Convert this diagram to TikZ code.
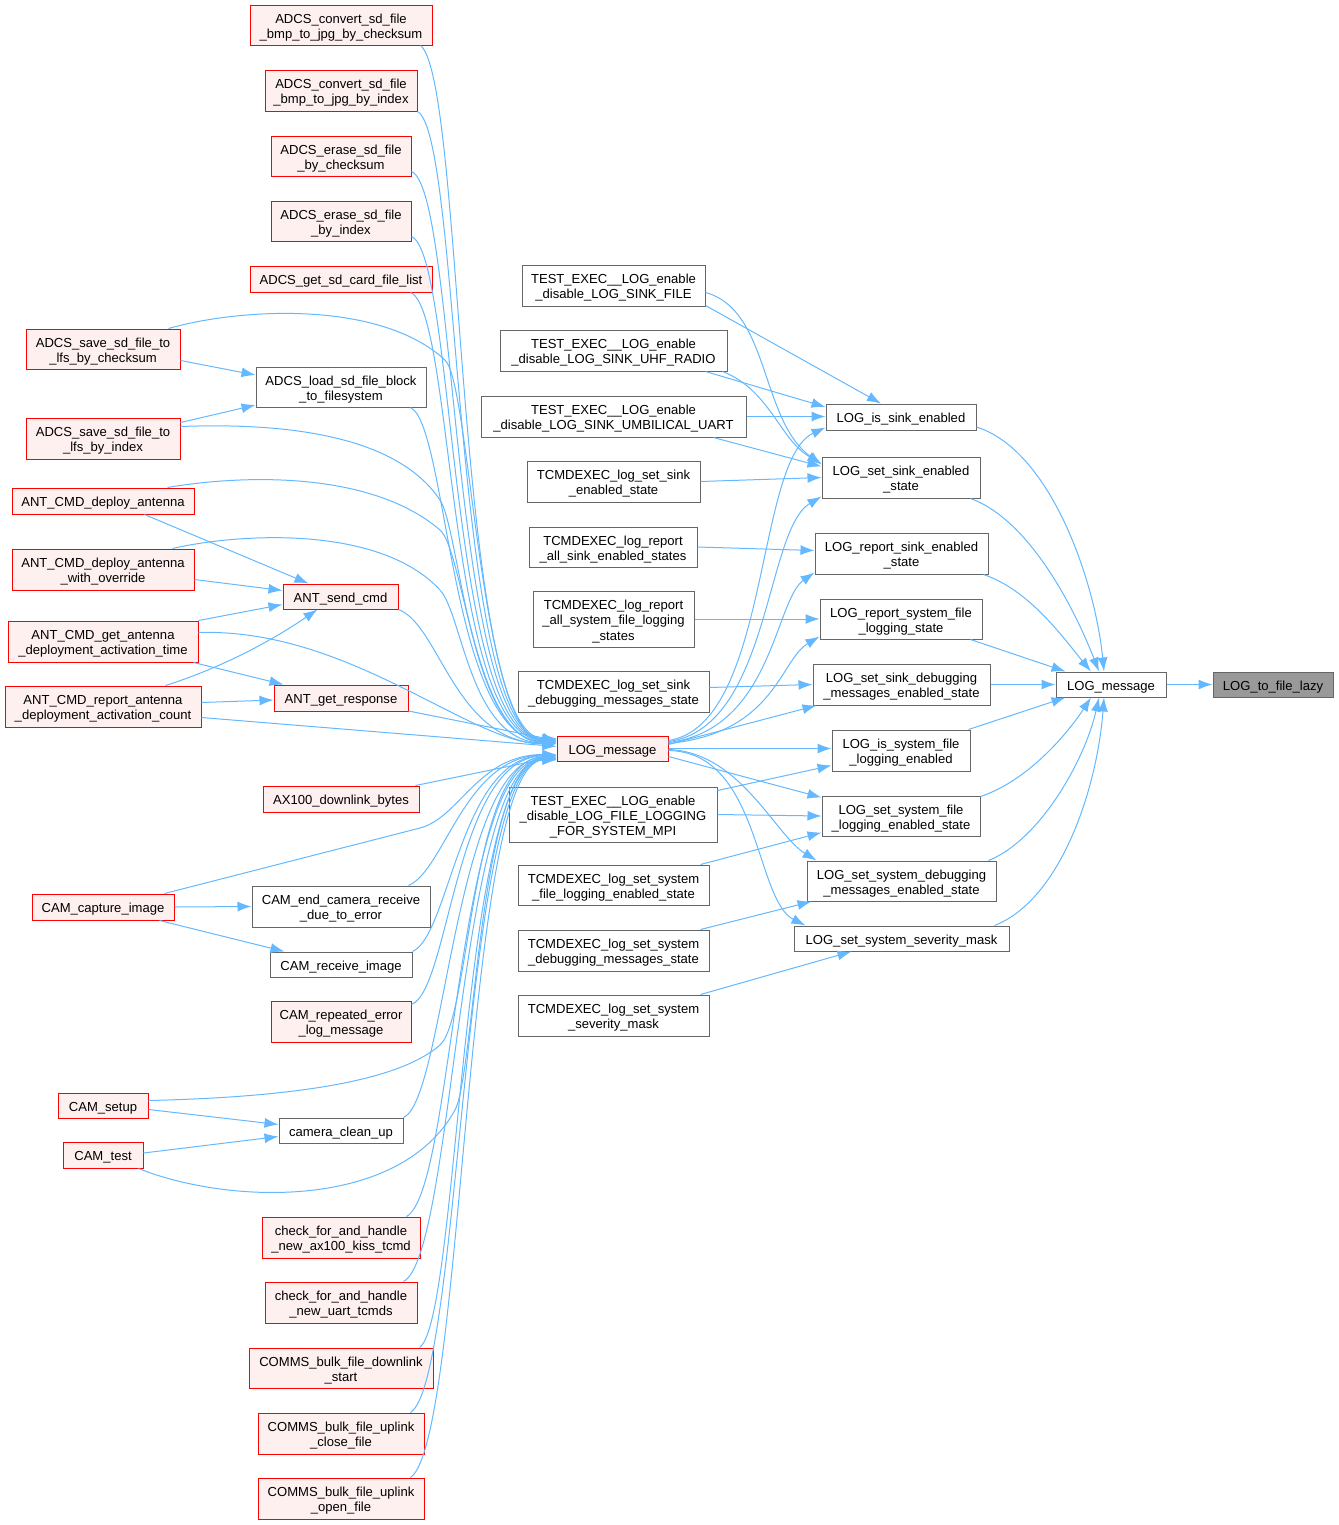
\documentclass[tikz,border=0pt]{standalone}
\usepackage{fontspec}
\setmainfont{Liberation Sans}
\usetikzlibrary{arrows.meta}
\definecolor{edgec}{HTML}{63B8FF}
\definecolor{nred}{HTML}{FF0000}
\definecolor{nredfill}{HTML}{FFF0F0}
\definecolor{ngray}{HTML}{666666}
\definecolor{ntarget}{HTML}{999999}
\newcommand{\nodefnt}{\fontsize{9.8pt}{11.3pt}\selectfont}
\newcommand{\nt}[1]{\raisebox{-2.2pt}[\height][\depth]{\begin{tabular}{@{}c@{}}#1\end{tabular}}}
\tikzset{
 basebox/.style={draw, line width=0.75pt, inner sep=0pt, font=\nodefnt, text=black},
 rbox/.style={basebox, draw=nred, fill=nredfill},
 gbox/.style={basebox, draw=ngray, fill=white},
 tbox/.style={basebox, draw=ngray, fill=ntarget},
 sz/.style 2 args={minimum width=#1*0.75pt, minimum height=#2*0.75pt},
 e/.style={draw=edgec, line width=0.75pt, -{Latex[length=10.5pt,width=7.5pt]}},
}
\begin{document}
\begin{tikzpicture}[x=0.75pt,y=-0.75pt]
\useasboundingbox (0,0) rectangle (1339,1525);
% left column
\node[rbox,sz={182}{40}] (adcs1) at (341,25) {\nt{ADCS\_convert\_sd\_file\\\_bmp\_to\_jpg\_by\_checksum}};
\node[rbox,sz={152}{41}] (adcs2) at (341,90.5) {\nt{ADCS\_convert\_sd\_file\\\_bmp\_to\_jpg\_by\_index}};
\node[rbox,sz={140}{40}] (adcs3) at (341,156) {\nt{ADCS\_erase\_sd\_file\\\_by\_checksum}};
\node[rbox,sz={140}{40}] (adcs4) at (341,221) {\nt{ADCS\_erase\_sd\_file\\\_by\_index}};
\node[rbox,sz={182}{26}] (adcs5) at (341,279) {\nt{ADCS\_get\_sd\_card\_file\_list}};
\node[rbox,sz={154}{40}] (adcs6) at (103,349) {\nt{ADCS\_save\_sd\_file\_to\\\_lfs\_by\_checksum}};
\node[gbox,sz={170}{40}] (adcsload) at (341,387) {\nt{ADCS\_load\_sd\_file\_block\\\_to\_filesystem}};
\node[rbox,sz={154}{41}] (adcs8) at (103,438.5) {\nt{ADCS\_save\_sd\_file\_to\\\_lfs\_by\_index}};
\node[rbox,sz={182}{26}] (ant1) at (103,501) {\nt{ANT\_CMD\_deploy\_antenna}};
\node[rbox,sz={182}{41}] (ant2) at (103,569.5) {\nt{ANT\_CMD\_deploy\_antenna\\\_with\_override}};
\node[rbox,sz={115}{25}] (antsend) at (340.5,596.5) {\nt{ANT\_send\_cmd}};
\node[rbox,sz={190}{41}] (ant3) at (103,641.5) {\nt{ANT\_CMD\_get\_antenna\\\_deployment\_activation\_time}};
\node[rbox,sz={196}{41}] (ant4) at (103,706.5) {\nt{ANT\_CMD\_report\_antenna\\\_deployment\_activation\_count}};
\node[rbox,sz={134}{26}] (antresp) at (341,698) {\nt{ANT\_get\_response}};
\node[rbox,sz={156}{26}] (ax100) at (341,799) {\nt{AX100\_downlink\_bytes}};
\node[rbox,sz={142}{26}] (camcap) at (103,907) {\nt{CAM\_capture\_image}};
\node[gbox,sz={178}{41}] (camend) at (341,906.5) {\nt{CAM\_end\_camera\_receive\\\_due\_to\_error}};
\node[gbox,sz={142}{25}] (camrecv) at (341,964.5) {\nt{CAM\_receive\_image}};
\node[rbox,sz={140}{41}] (camrep) at (341,1021.5) {\nt{CAM\_repeated\_error\\\_log\_message}};
\node[rbox,sz={90}{25}] (camsetup) at (103,1105.5) {\nt{CAM\_setup}};
\node[gbox,sz={124}{25}] (camclean) at (341,1130.5) {\nt{camera\_clean\_up}};
\node[rbox,sz={80}{26}] (camtest) at (103,1155) {\nt{CAM\_test}};
\node[rbox,sz={158}{41}] (chk1) at (341,1237.5) {\nt{check\_for\_and\_handle\\\_new\_ax100\_kiss\_tcmd}};
\node[rbox,sz={152}{41}] (chk2) at (341,1302.5) {\nt{check\_for\_and\_handle\\\_new\_uart\_tcmds}};
\node[rbox,sz={184}{40}] (comms1) at (341,1368) {\nt{COMMS\_bulk\_file\_downlink\\\_start}};
\node[rbox,sz={166}{41}] (comms2) at (341,1433.5) {\nt{COMMS\_bulk\_file\_uplink\\\_close\_file}};
\node[rbox,sz={166}{41}] (comms3) at (341,1498.5) {\nt{COMMS\_bulk\_file\_uplink\\\_open\_file}};
% central
\node[rbox,sz={111}{25}] (logr) at (612.5,748.5) {\nt{LOG\_message}};
% middle column
\node[gbox,sz={183}{41}] (m1) at (613.5,285.5) {\nt{TEST\_EXEC\_\_LOG\_enable\\\_disable\_LOG\_SINK\_FILE}};
\node[gbox,sz={227}{41}] (m2) at (613.5,350.5) {\nt{TEST\_EXEC\_\_LOG\_enable\\\_disable\_LOG\_SINK\_UHF\_RADIO}};
\node[gbox,sz={265}{41}] (m3) at (613.5,416.5) {\nt{TEST\_EXEC\_\_LOG\_enable\\\_disable\_LOG\_SINK\_UMBILICAL\_UART}};
\node[gbox,sz={173}{41}] (m4) at (613.5,481.5) {\nt{TCMDEXEC\_log\_set\_sink\\\_enabled\_state}};
\node[gbox,sz={168}{40}] (m5) at (613,547) {\nt{TCMDEXEC\_log\_report\\\_all\_sink\_enabled\_states}};
\node[gbox,sz={161}{56}] (m6) at (613.5,619) {\nt{TCMDEXEC\_log\_report\\\_all\_system\_file\_logging\\\_states}};
\node[gbox,sz={191}{41}] (m7) at (613.5,691.5) {\nt{TCMDEXEC\_log\_set\_sink\\\_debugging\_messages\_state}};
\node[gbox,sz={208}{55}] (m8) at (613,814.5) {\nt{TEST\_EXEC\_\_LOG\_enable\\\_disable\_LOG\_FILE\_LOGGING\\\_FOR\_SYSTEM\_MPI}};
\node[gbox,sz={191}{40}] (m9) at (613.5,885) {\nt{TCMDEXEC\_log\_set\_system\\\_file\_logging\_enabled\_state}};
\node[gbox,sz={191}{41}] (m10) at (613.5,950.5) {\nt{TCMDEXEC\_log\_set\_system\\\_debugging\_messages\_state}};
\node[gbox,sz={191}{41}] (m11) at (613.5,1015.5) {\nt{TCMDEXEC\_log\_set\_system\\\_severity\_mask}};
% right column
\node[gbox,sz={150}{26}] (r1) at (901,417) {\nt{LOG\_is\_sink\_enabled}};
\node[gbox,sz={158}{41}] (r2) at (901,477.5) {\nt{LOG\_set\_sink\_enabled\\\_state}};
\node[gbox,sz={173}{41}] (r3) at (901.5,553.5) {\nt{LOG\_report\_sink\_enabled\\\_state}};
\node[gbox,sz={162}{40}] (r4) at (901,619) {\nt{LOG\_report\_system\_file\\\_logging\_state}};
\node[gbox,sz={177}{41}] (r5) at (901.5,684.5) {\nt{LOG\_set\_sink\_debugging\\\_messages\_enabled\_state}};
\node[gbox,sz={138}{41}] (r6) at (901,750.5) {\nt{LOG\_is\_system\_file\\\_logging\_enabled}};
\node[gbox,sz={158}{40}] (r7) at (901,816) {\nt{LOG\_set\_system\_file\\\_logging\_enabled\_state}};
\node[gbox,sz={189}{40}] (r8) at (901.5,881) {\nt{LOG\_set\_system\_debugging\\\_messages\_enabled\_state}};
\node[gbox,sz={215}{25}] (r9) at (901.5,938.5) {\nt{LOG\_set\_system\_severity\_mask}};
% far right
\node[gbox,sz={110}{25}] (logg) at (1111,684.5) {\nt{LOG\_message}};
\node[tbox,sz={120}{25}] (target) at (1273,684.5) {\nt{LOG\_to\_file\_lazy}};

% ---- edges into red LOG_message from the top
\draw[e] ([shift={(-12,0)}]adcs1.south east) .. controls (465,80) and (455,738.5) .. ([shift={(0,-10)}]logr.west);
\draw[e] (adcs2.south east) .. controls (462,135) and (452,739) .. ([shift={(0,-9.5)}]logr.west);
\draw[e] ([shift={(0,-5)}]adcs3.south east) .. controls (458,190) and (450,739.5) .. ([shift={(0,-9)}]logr.west);
\draw[e] ([shift={(0,-5)}]adcs4.south east) .. controls (456,255) and (448,740) .. ([shift={(0,-8.5)}]logr.west);
\draw[e] ([shift={(-22,0)}]adcs5.south east) .. controls (455,310) and (446,740.5) .. ([shift={(0,-8)}]logr.west);
\draw[e] ([shift={(-12,0)}]adcs6.north east) .. controls (240,308) and (380,300) .. (445,360) .. controls (471,384) and (480,741) .. ([shift={(0,-7.5)}]logr.west);
\draw[e] ([shift={(-16,0)}]adcsload.south east) .. controls (448,425) and (450,741) .. ([shift={(0,-7)}]logr.west);
\draw[e] ([shift={(0,-12)}]adcs8.east) .. controls (300,422) and (400,440) .. (440,500) .. controls (460,530) and (470,742) .. ([shift={(0,-6.5)}]logr.west);
\draw[e] ([shift={(-27,0)}]ant1.north east) .. controls (240,475) and (370,470) .. (440,530) .. controls (464,550.6) and (475,742.5) .. ([shift={(0,-6)}]logr.west);
\draw[e] ([shift={(-22,0)}]ant2.north east) .. controls (240,533) and (380,525) .. (440,590) .. controls (463,615) and (470,743) .. ([shift={(0,-5.5)}]logr.west);
\draw[e] (antsend.south east) .. controls (440,625) and (455,743.5) .. ([shift={(0,-5)}]logr.west);
\draw[e] ([shift={(0,-9)}]ant3.east) .. controls (350,628) and (470,744) .. ([shift={(0,-4.5)}]logr.west);
\draw[e] ([shift={(0,13)}]antresp.east) -- ([shift={(0,-8)}]logr.west);
\draw[e] ([shift={(0,11)}]ant4.east) -- ([shift={(0,-2)}]logr.west);
% ---- edges among left nodes
\draw[e] ([shift={(0,11.5)}]adcs6.east) -- ([shift={(0,-12)}]adcsload.west);
\draw[e] ([shift={(0,-16)}]adcs8.east) -- ([shift={(0,18)}]adcsload.west);
\draw[e] ([shift={(-50,0)}]ant1.south east) -- ([shift={(-32,0)}]antsend.north);
\draw[e] ([shift={(0,10)}]ant2.east) -- ([shift={(0,-6)}]antsend.west);
\draw[e] (ant3.north east) -- ([shift={(0,8)}]antsend.west);
\draw[e] ([shift={(-5,0)}]ant3.south east) -- ([shift={(10,0)}]antresp.north west);
\draw[e] ([shift={(-36,0)}]ant4.north east) .. controls (230,665) and (280,635) .. ([shift={(-23,0)}]antsend.south);
\draw[e] ([shift={(0,-4)}]ant4.east) -- ([shift={(0,2)}]antresp.west);
\draw[e] (camcap.east) -- (camend.west);
\draw[e] ([shift={(-15,0)}]camcap.south east) -- ([shift={(15,0)}]camrecv.north west);
\draw[e] ([shift={(0,4)}]camsetup.east) -- ([shift={(0,-6)}]camclean.west);
\draw[e] ([shift={(0,-2)}]camtest.east) -- ([shift={(0,6)}]camclean.west);
% ---- edges into red LOG_message from the bottom
\draw[e] ([shift={(-4,0)}]ax100.north east) -- ([shift={(0,8)}]logr.west);
\draw[e] ([shift={(-10,0)}]camcap.north east) -- (420,828) .. controls (460,817.6) and (478,754.5) .. ([shift={(0,6)}]logr.west);
\draw[e] ([shift={(-22,0)}]camend.north east) .. controls (445,870) and (465,755) .. ([shift={(0,6.5)}]logr.west);
\draw[e] (camrecv.north east) .. controls (450,935) and (460,755.5) .. ([shift={(0,7)}]logr.west);
\draw[e] ([shift={(0,4)}]camrep.north east) .. controls (450,990) and (455,756) .. ([shift={(0,7.5)}]logr.west);
\draw[e] ([shift={(0,-5)}]camsetup.east) .. controls (300,1097) and (400,1080) .. (440,1045) .. controls (471,1018) and (470,757) .. ([shift={(0,8.5)}]logr.west);
\draw[e] (camclean.north east) .. controls (445,1100) and (455,757.5) .. ([shift={(0,9)}]logr.west);
\draw[e] ([shift={(-5,0)}]camtest.south east) .. controls (230,1205) and (400,1210) .. (455,1110) .. controls (475,1073.6) and (480,758) .. ([shift={(0,9.5)}]logr.west);
\draw[e] ([shift={(-14,0)}]chk1.north east) .. controls (455,1190) and (455,758.5) .. ([shift={(0,10)}]logr.west);
\draw[e] ([shift={(-14,0)}]chk2.north east) .. controls (455,1255) and (458,759) .. ([shift={(0,10.5)}]logr.west);
\draw[e] ([shift={(-14,0)}]comms1.north east) .. controls (460,1320) and (460,759.5) .. ([shift={(0,11)}]logr.west);
\draw[e] ([shift={(-14,0)}]comms2.north east) .. controls (462,1380) and (462,760) .. ([shift={(0,11)}]logr.west);
\draw[e] ([shift={(-14,0)}]comms3.north east) .. controls (465,1440) and (464,760.5) .. ([shift={(0,11.5)}]logr.west);
% ---- red LOG_message to right column
\draw[e] ([shift={(0,-8)}]logr.east) .. controls (770,725) and (755,460) .. ([shift={(0,-3)}]r1.south west);
\draw[e] ([shift={(0,-7)}]logr.east) .. controls (770,728) and (765,530) .. ([shift={(0,-2)}]r2.south west);
\draw[e] ([shift={(0,-6)}]logr.east) .. controls (772,730) and (775,600) .. ([shift={(0,-2)}]r3.south west);
\draw[e] ([shift={(0,-5)}]logr.east) .. controls (775,733) and (780,660) .. ([shift={(0,-3)}]r4.south west);
\draw[e] ([shift={(0,-4)}]logr.east) -- ([shift={(4,0)}]r5.south west);
\draw[e] (logr.east) -- (logr.east -| r6.west);
\draw[e] ([shift={(0,8)}]logr.east) -- ([shift={(0,2)}]r7.north west);
\draw[e] ([shift={(0,1)}]logr.east) .. controls (740,752) and (775,835) .. ([shift={(10,0)}]r8.north west);
\draw[e] ([shift={(0,2)}]logr.east) .. controls (760,752) and (755,900) .. ([shift={(12,0)}]r9.north west);
% ---- middle column to right column
\draw[e] ([shift={(0,-1)}]m1.south east) -- ([shift={(-20,0)}]r1.north);
\draw[e] ([shift={(0,7)}]m1.east) .. controls (770,310) and (760,420) .. ([shift={(0,-13)}]r2.west);
\draw[e] ([shift={(-22,0)}]m2.south east) -- ([shift={(0,-10)}]r1.west);
\draw[e] ([shift={(-5,0)}]m2.south east) .. controls (770,390) and (780,440) .. ([shift={(0,-14)}]r2.west);
\draw[e] (m3.east) -- (m3.east -| r1.west);
\draw[e] ([shift={(-33,0)}]m3.south east) -- ([shift={(0,-11)}]r2.west);
\draw[e] (m4.east) -- (r2.west);
\draw[e] (m5.east) -- ([shift={(0,-3)}]r3.west);
\draw[e] (m6.east) -- (r4.west);
\draw[e] ([shift={(0,-4)}]m7.east) -- (r5.west);
\draw[e] ([shift={(0,4)}]m8.north east) -- ([shift={(0,-6)}]r6.south west);
\draw[e] (m8.east) -- (r7.west);
\draw[e] ([shift={(-9,0)}]m9.north east) -- ([shift={(0,-4)}]r7.south west);
\draw[e] ([shift={(-9,0)}]m10.north east) -- ([shift={(5,0)}]r8.south west);
\draw[e] ([shift={(-9,0)}]m11.north east) -- ([shift={(-50,0)}]r9.south);
% ---- right column to gray LOG_message
\draw[e] ([shift={(0,10)}]r1.east) .. controls (1050,450) and (1095,580) .. ([shift={(-7,0)}]logg.north);
\draw[e] ([shift={(-10,0)}]r2.south east) .. controls (1030,520) and (1075,610) .. ([shift={(-12,0)}]logg.north);
\draw[e] ([shift={(-5,0)}]r3.south east) .. controls (1030,590) and (1065,640) .. ([shift={(-20,0)}]logg.north);
\draw[e] ([shift={(-12,0)}]r4.south east) -- ([shift={(10,0)}]logg.north west);
\draw[e] (r5.east) -- (logg.west);
\draw[e] ([shift={(-2,0)}]r6.north east) -- ([shift={(10,0)}]logg.south west);
\draw[e] ([shift={(0,1)}]r7.north east) .. controls (1030,780) and (1070,730) .. ([shift={(-20,0)}]logg.south);
\draw[e] ([shift={(-8,0)}]r8.north east) .. controls (1040,840) and (1085,760) .. ([shift={(-12,0)}]logg.south);
\draw[e] ([shift={(-15,0)}]r9.north east) .. controls (1060,900) and (1097,790) .. ([shift={(-7,0)}]logg.south);
\draw[e] (logg.east) -- (target.west);
\end{tikzpicture}
\end{document}
